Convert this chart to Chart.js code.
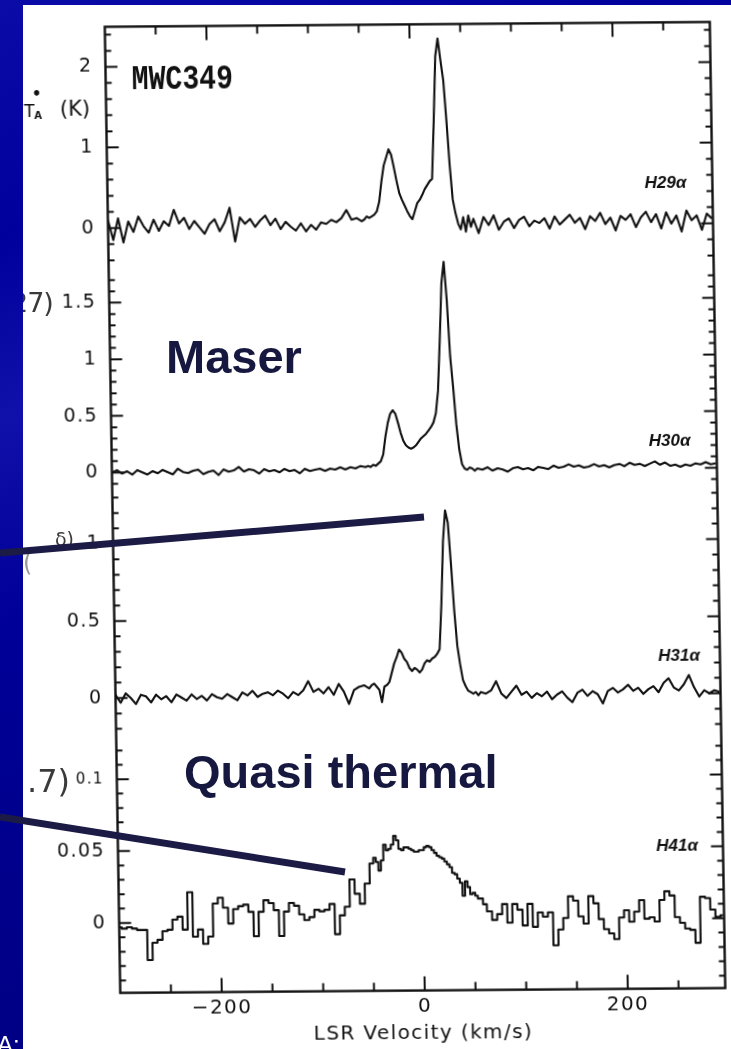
<!DOCTYPE html>
<html>
<head>
<meta charset="utf-8">
<script src="https://cdn.jsdelivr.net/npm/chart.js@4/dist/chart.umd.min.js"></script>
<style>
  html, body { margin: 0; padding: 0; }
  body {
    width: 731px; height: 1049px; position: relative; overflow: hidden;
    background: linear-gradient(160deg, #0b0ba8 0%, #00009c 18%, #1010aa 32%, #000098 48%, #00008c 66%, #000082 86%, #00009a 100%);
  }
  #sheet { position: absolute; left: 23px; top: 5px; width: 708px; height: 1044px; background: #fff; overflow: hidden; }
  #wrap {
    position: absolute; left: -23px; top: -5px; width: 731px; height: 1049px;
    transform-origin: 415px 505px; transform: matrix(1, -0.008, 0.016, 1, 0, 0);
  }
  .pen { position: absolute; font-family: "DejaVu Sans"; color: #3a3a3a; line-height: 1; white-space: nowrap; }
  .slide { position: absolute; font-family: "Liberation Sans", Arial, sans-serif; font-weight: bold; font-size: 47px; line-height: 47px; color: #17183f; white-space: nowrap; }
  #lines { position: absolute; left: 0; top: 0; }
  #corner { position: absolute; left: -3px; top: 1031px; font: 24px "Liberation Sans", Arial, sans-serif; color: #fff; }
</style>
</head>
<body>
<div id="sheet">
  <div id="wrap"><canvas id="chart" width="731" height="1049"></canvas></div>
  <div class="pen" style="left:-12px;top:284px;font-size:27px;letter-spacing:-1px">27)</div>
  <div class="pen" style="left:32px;top:525px;font-size:19px">&#948;)</div>
  <div class="pen" style="left:0px;top:546px;font-size:24px;color:#999">(</div>
  <div class="pen" style="left:4px;top:760px;font-size:32px">.7)</div>
</div>
<div class="slide" style="left:166px;top:333px">Maser</div>
<div class="slide" style="left:184px;top:748px">Quasi thermal</div>
<svg id="lines" width="731" height="1049">
  <line x1="0" y1="553" x2="424" y2="517" stroke="#1b1b45" stroke-width="7"/>
  <line x1="0" y1="817" x2="345" y2="872" stroke="#1b1b45" stroke-width="7"/>
</svg>
<div id="corner">A:</div>
<script>
const VELOCITY = [
  -300, -295, -290, -285, -280, -275, -270, -265, -260, -255,
  -250, -245, -240, -235, -230, -225, -220, -215, -210, -205,
  -200, -195, -190, -185, -180, -175, -170, -165, -160, -155,
  -150, -145, -140, -135, -130, -125, -120, -115, -110, -105,
  -100, -95, -90, -85, -80, -75, -70, -65, -60, -55,
  -50,
  -47.5, -45, -42.5, -40, -37.5, -35, -32.5, -30, -27.5, -25,
  -22.5, -20, -17.5, -15, -12.5, -10, -7.5, -5, -2.5, 0,
  2.5, 5, 7.5, 10, 12.5, 15, 17.5, 20, 22.5, 25,
  27.5, 30, 32.5, 35, 37.5, 40, 42.5, 45, 47.5, 50,
  52.5, 55, 57.5, 60,
  65, 70, 75, 80, 85, 90, 95, 100, 105, 110,
  115, 120, 125, 130, 135, 140, 145, 150, 155, 160,
  165, 170, 175, 180, 185, 190, 195, 200, 205, 210,
  215, 220, 225, 230, 235, 240, 245, 250, 255, 260,
  265, 270, 275, 280, 285, 290, 295
]

// T_A* (K) per channel
const H29 = [
  0.1, -0.15, 0.12, -0.18, 0.08, -0.05, 0.14, 0.02, -0.06, 0.1,
  -0.04, 0.08, 0.02, 0.22, 0.05, 0.12, -0.02, 0.08, 0, -0.08,
  0.04, 0.1, -0.05, 0.06, 0.24, -0.18, 0.12, 0.04, 0.1, 0,
  0.08, 0.14, 0.02, 0.1, -0.03, 0.06, 0, -0.05, 0.04, -0.06,
  0.02, -0.04, 0.05, 0.03, 0.08, 0.05, 0.1, 0.2, 0.08, 0.1,
  0.06,
  0.08, 0.12, 0.1, 0.12, 0.14, 0.18, 0.3, 0.55, 0.75, 0.85,
  0.95, 0.88, 0.72, 0.55, 0.4, 0.32, 0.25, 0.18, 0.12, 0.08,
  0.18, 0.28, 0.32, 0.38, 0.45, 0.5, 0.55, 0.58, 1.3, 2.1,
  2.32, 2.05, 1.8, 1.3, 0.75, 0.32, 0.15, 0.02, -0.05, 0.1,
  -0.08, 0.12, -0.02, 0.08,
  -0.1, 0.1, 0, 0.12, -0.06, 0.04, 0.08, -0.04, 0.06, 0.1,
  -0.02, 0.05, 0.02, 0.08, -0.05, 0.1, 0, 0.06, 0.12, 0.02,
  0.08, -0.06, 0.1, 0.04, 0.14, 0, 0.08, -0.08, 0.1, 0.05,
  0.12, -0.04, 0.08, 0.15, 0.02, 0.12, -0.06, 0.14, 0, 0.1,
  -0.1, 0.16, 0.04, 0.1, -0.08, 0.12, 0.06
]
const H30 = [
  0, 0.02, -0.01, 0.01, -0.02, 0.02, 0, -0.02, 0.01, -0.01,
  0.02, 0, -0.02, 0.03, 0, -0.01, 0.01, 0.02, -0.02, 0,
  0.01, -0.03, 0.02, 0, 0.01, 0.04, 0, 0.02, 0.01, -0.02,
  0.02, 0, 0.01, -0.01, 0.02, 0, 0.01, -0.02, 0.02, 0,
  0.01, 0.02, 0, 0.02, 0.01, 0.03, 0.01, 0.03, 0.02, 0.04,
  0.03,
  0.04, 0.03, 0.05, 0.04, 0.06, 0.08, 0.14, 0.3, 0.42, 0.5,
  0.53, 0.5, 0.42, 0.33, 0.26, 0.22, 0.2, 0.19, 0.2, 0.22,
  0.25, 0.28, 0.3, 0.32, 0.35, 0.38, 0.42, 0.5, 0.7, 1.15,
  1.65, 1.84, 1.5, 1.0, 0.72, 0.4, 0.18, 0.05, 0.01, 0,
  0.02, 0.01, -0.01, 0.01,
  0, 0.02, -0.01, 0.01, 0, -0.02, 0.01, 0.02, 0, 0.01,
  -0.01, 0.02, 0.01, 0, 0.03, 0.01, 0.02, 0.04, 0.02, 0.03,
  0.01, 0.02, 0.04, 0.02, 0.03, 0.01, 0.03, 0.04, 0.02, 0.05,
  0.03, 0.04, 0.02, 0.04, 0.06, 0.03, 0.05, 0.02, 0.03, 0.01,
  0.03, 0.02, 0.04, 0.03, 0.05, 0.03, 0.04
]
const H31 = [
  0.02, -0.03, 0.03, 0, -0.04, 0.02, 0.01, -0.03, 0.02, -0.01,
  0.01, -0.03, 0.02, 0, -0.02, 0.02, -0.01, 0.01, -0.02, 0.02,
  0, -0.01, 0.02, 0, -0.02, 0.03, 0.01, 0.04, 0, 0.02,
  0.03, 0.01, 0.04, 0.02, -0.01, 0.03, 0.01, 0.04, 0.1, 0.03,
  0.05, 0.02, 0.06, 0.01, 0.08, 0.03, -0.05, 0.04, 0.06, 0.07,
  0.05,
  0.07, 0.08, 0.06, 0.04, -0.04, 0.06, 0.07, 0.09, 0.15, 0.21,
  0.25, 0.3, 0.28, 0.24, 0.22, 0.18, 0.16, 0.18, 0.17, 0.15,
  0.17, 0.21, 0.23, 0.22, 0.24, 0.25, 0.27, 0.3, 0.6, 1.0,
  1.2, 1.12, 0.85, 0.55, 0.32, 0.2, 0.1, 0.06, 0.03, 0.02,
  0.01, 0.02, 0, 0.02,
  0.01, 0.03, 0.09, 0.01, -0.02, 0.02, 0.06, 0, 0.02, -0.02,
  0.01, -0.01, 0.02, -0.03, 0, 0.02, -0.02, -0.05, 0.01, 0.03,
  -0.01, 0.02, 0, -0.06, 0.02, 0.04, 0.01, 0.03, 0.06, 0.02,
  0.04, 0, 0.03, 0.05, 0.01, 0.07, 0.1, 0.04, 0.02, 0.06,
  0.12, 0.04, -0.02, 0.02, 0, 0.02, 0.01
]
const H41 = [
  -0.003, -0.004, -0.003, -0.004, -0.005, -0.005, -0.026, -0.014, -0.012, -0.006,
  -0.005, 0.002, 0.004, -0.005, 0.021, -0.01, -0.005, -0.015, -0.01, 0.013,
  0.017, 0.01, -0.001, 0.009, 0.011, 0.012, 0.007, -0.01, 0.007, 0.015,
  0.013, 0.008, -0.01, 0.007, 0.013, 0.011, 0.005, 0.001, 0.003, 0.008,
  0.007, 0.008, 0.012, -0.009, 0.004, 0.01, 0.029, 0.019, 0.012, 0.026,
  0.04,
  0.044, 0.041, 0.035, 0.042, 0.053, 0.049, 0.05, 0.053, 0.059, 0.056,
  0.05, 0.049, 0.051, 0.051, 0.05, 0.049, 0.048, 0.048, 0.049, 0.049,
  0.051, 0.052, 0.051, 0.049, 0.047, 0.045, 0.044, 0.043, 0.041, 0.039,
  0.037, 0.033, 0.032, 0.029, 0.026, 0.017, 0.027, 0.023, 0.018, 0.019,
  0.017, 0.015, 0.015, 0.011,
  0.006, 0, 0.004, 0.011, -0.002, 0.011, 0.007, -0.004, 0.011, -0.005,
  0.005, 0.002, 0.005, -0.018, -0.007, 0.001, 0.016, 0.013, 0.002, -0.003,
  0.016, 0.011, 0, -0.007, -0.01, -0.014, 0.001, 0.006, -0.002, 0.005,
  0.013, 0, 0.001, -0.002, 0.013, 0.019, 0.016, 0.001, -0.003, -0.007,
  -0.008, -0.017, 0.015, 0.014, 0.006, 0.001, 0.002
]

const LINE_NAMES = ["H29\u03b1", "H30\u03b1", "H31\u03b1", "H41\u03b1"]
const X_TICKS = [-200, 0, 200]
const TICKS_H29 = [0, 1, 2]
const TICKS_H30 = [0, 0.5, 1, 1.5]
const TICKS_H31 = [0, 0.5, 1]
const TICKS_H41 = [0, 0.05, 0.1]

const INK = "#111111"

// minor tick stretch of each stacked panel, and where its line name sits
const PANELS = [
  { id: "y1", from: -0.4, to: 2.4, step: 0.2, major: TICKS_H29, label: 0.5, inset: 26 },
  { id: "y2", from: -0.1, to: 1.7, step: 0.1, major: TICKS_H30, label: 0.24, inset: 26 },
  { id: "y3", from: -0.2, to: 1.3, step: 0.1, major: TICKS_H31, label: 0.24, inset: 20 },
  { id: "y4", from: -0.04, to: 0.12, step: 0.01, major: TICKS_H41, label: 0.05, inset: 25 }
]

const series = (vals) => VELOCITY.map((v, i) => ({ x: v, y: vals[i] }))

const yAxis = (min, max, ticks, weight, stackWeight, small) => ({
  type: "linear",
  position: "left",
  stack: "spectra",
  stackWeight,
  weight,
  min, max,
  afterFit(s) { s.width = 60 },
  afterBuildTicks(s) { s.ticks = ticks.map(v => ({ value: v })) },
  grid: { display: false, drawTicks: false },
  border: { display: false },
  ticks: {
    color: INK,
    padding: 13,
    font: (c) => ({ family: "DejaVu Sans", size: c.tick && c.tick.value === small ? 15 : 19 }),
    callback: v => String(v)
  }
})

// the scanned figure has loosely spaced lettering on its axes
const spacing = {
  id: "spacing",
  beforeDraw(chart) { chart.ctx.letterSpacing = "1.4px" },
  beforeDatasetsDraw(chart) { chart.ctx.letterSpacing = "0px" }
}

const frameTicks = {
  id: "frameTicks",
  afterDatasetsDraw(chart) {
    const { ctx, chartArea: a, scales } = chart
    ctx.save()
    ctx.strokeStyle = INK
    ctx.lineWidth = 2.4
    ctx.strokeRect(a.left, a.top, a.right - a.left, a.bottom - a.top)
    ctx.lineWidth = 2
    ctx.beginPath()
    for (let v = -250; v <= 250; v += 50) {
      const x = scales.x.getPixelForValue(v)
      const len = X_TICKS.includes(v) ? 14 : 8
      ctx.moveTo(x, a.bottom); ctx.lineTo(x, a.bottom - len)
      ctx.moveTo(x, a.top); ctx.lineTo(x, a.top + len)
    }
    PANELS.forEach(p => {
      const s = scales[p.id]
      const n = Math.round((p.to - p.from) / p.step)
      for (let i = 0; i <= n; i++) {
        const v = p.from + i * p.step
        const y = s.getPixelForValue(v)
        const len = p.major.some(m => Math.abs(m - v) < p.step / 10) ? 12 : 6
        ctx.moveTo(a.left, y); ctx.lineTo(a.left + len, y)
        ctx.moveTo(a.right, y); ctx.lineTo(a.right - len, y)
      }
    })
    ctx.stroke()
    ctx.restore()
  }
}

const scanText = {
  id: "scanText",
  afterDraw(chart) {
    const { ctx, chartArea: a, scales } = chart
    ctx.save()
    ctx.fillStyle = INK

    ctx.font = 'bold 32px "Liberation Mono"'
    ctx.textAlign = "left"
    ctx.textBaseline = "middle"
    ctx.save()
    ctx.translate(a.left + 26, scales.y1.getPixelForValue(1.83))
    ctx.scale(0.88, 1.12)
    ctx.fillText("MWC349", 0, 0)
    ctx.restore()

    // T_A* (K)
    const ty = scales.y1.getPixelForValue(1.47)
    ctx.textAlign = "right"
    ctx.font = '21px "DejaVu Sans"'
    ctx.fillText("(K)", a.left - 16, ty)
    ctx.textAlign = "left"
    ctx.textBaseline = "alphabetic"
    ctx.font = '17px "DejaVu Sans"'
    ctx.fillText("T", a.left - 82, ty + 7)
    ctx.font = 'bold 10px "DejaVu Sans"'
    ctx.fillText("A", a.left - 72, ty + 9)
    ctx.font = 'bold 15px "DejaVu Sans"'
    ctx.fillText("\u2022", a.left - 74, ty - 11)

    ctx.font = 'italic bold 17px "Liberation Sans"'
    ctx.textAlign = "right"
    ctx.textBaseline = "middle"
    PANELS.forEach((p, i) => {
      ctx.fillText(LINE_NAMES[i], a.right - p.inset, scales[p.id].getPixelForValue(p.label))
    })
    ctx.restore()
  }
}

const lineStyle = {
  borderColor: INK,
  borderWidth: 2.1,
  borderJoinStyle: "round",
  pointRadius: 0,
  fill: false,
  tension: 0
}

new Chart(document.getElementById("chart"), {
  type: "line",
  data: {
    datasets: [
      { ...lineStyle, label: LINE_NAMES[0], data: series(H29), yAxisID: "y1" },
      { ...lineStyle, label: LINE_NAMES[1], data: series(H30), yAxisID: "y2" },
      { ...lineStyle, label: LINE_NAMES[2], data: series(H31), yAxisID: "y3" },
      { ...lineStyle, label: LINE_NAMES[3], data: series(H41), yAxisID: "y4", stepped: "middle" }
    ]
  },
  options: {
    responsive: false,
    animation: false,
    events: [],
    layout: { padding: { left: 52.5, right: 13.5, top: 19.6, bottom: 2.4 } },
    plugins: { legend: { display: false }, tooltip: { enabled: false } },
    scales: {
      x: {
        type: "linear",
        min: -300,
        max: 296,
        afterFit(s) { s.height = 56 },
        afterBuildTicks(s) { s.ticks = X_TICKS.map(v => ({ value: v })) },
        grid: { display: false, drawTicks: false },
        border: { display: false },
        ticks: {
          color: INK,
          padding: 4,
          maxRotation: 0,
          font: { family: "DejaVu Sans", size: 20 },
          callback: v => v < 0 ? "\u2212" + (-v) : String(v)
        },
        title: {
          display: true,
          text: "LSR Velocity (km/s)",
          color: INK,
          font: { family: "DejaVu Sans", size: 20 },
          padding: { top: 0, bottom: 1 }
        }
      },
      // stacked panels, heights 238/228/247/258 px of the 971 px frame
      y1: yAxis(-0.4407, 2.4975, TICKS_H29, 4, 238),
      y2: yAxis(-0.1582, 1.8453, TICKS_H30, 3, 228),
      y3: yAxis(-0.2471, 1.3465, TICKS_H31, 2, 247),
      y4: yAxis(-0.04868, 0.12999, TICKS_H41, 1, 258, 0.1)
    }
  },
  plugins: [spacing, frameTicks, scanText]
})
</script>
</body>
</html>
